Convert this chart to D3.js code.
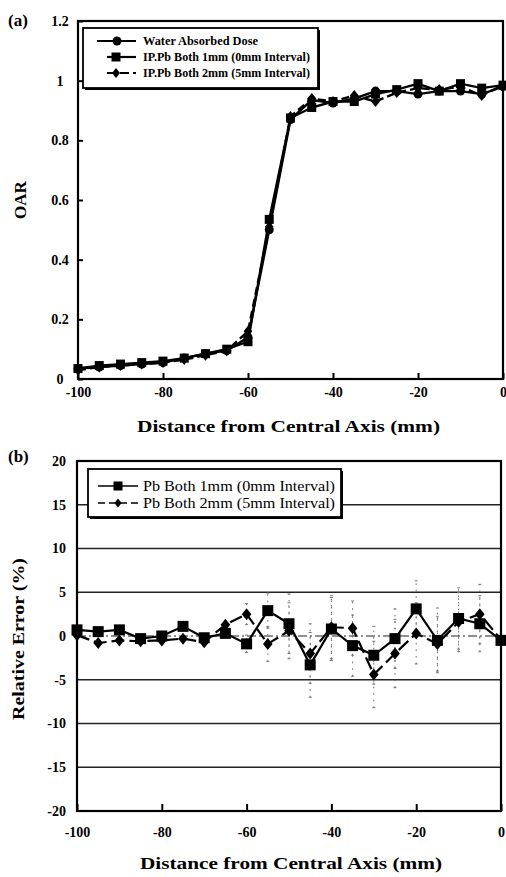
<!DOCTYPE html>
<html>
<head>
<meta charset="utf-8">
<script src="https://cdn.jsdelivr.net/npm/d3@7"></script>
<style>
html,body{margin:0;padding:0;background:#fff;}
svg{display:block;}
text{font-family:"Liberation Serif","Times New Roman",Times,serif;fill:#000;}
</style>
</head>
<body>
<svg id="chart" width="506" height="877"></svg>
<script>
// ---------- DATA ----------
const distances = [-100,-95,-90,-85,-80,-75,-70,-65,-60,-55,-50,-45,-40,-35,-30,-25,-20,-15,-10,-5,0];

// (a) OAR
const waterDose = [0.035,0.04,0.045,0.05,0.055,0.07,0.085,0.095,0.14,0.50,0.87,0.935,0.925,0.94,0.965,0.965,0.955,0.965,0.965,0.955,0.98];
const pb1mmOAR  = [0.035,0.045,0.05,0.055,0.06,0.07,0.085,0.10,0.125,0.535,0.875,0.91,0.93,0.93,0.955,0.97,0.99,0.965,0.99,0.975,0.985];
const pb2mmOAR  = [0.03,0.04,0.045,0.05,0.055,0.065,0.08,0.095,0.16,0.51,0.88,0.94,0.93,0.95,0.93,0.96,0.975,0.97,0.98,0.95,0.985];
const legendA = ["Water Absorbed Dose","IP.Pb Both 1mm (0mm Interval)","IP.Pb Both 2mm (5mm Interval)"];
const xTicks = [-100,-80,-60,-40,-20,0];
const yTicksA = [0,0.2,0.4,0.6,0.8,1,1.2];

// (b) Relative error
const pb1mmErr = [0.7,0.5,0.7,-0.3,0.0,1.1,-0.2,0.3,-0.9,2.9,1.4,-3.3,0.8,-1.1,-2.2,-0.3,3.1,-0.5,2.0,1.4,-0.5];
const pb2mmErr = [0.1,-0.8,-0.5,-0.6,-0.5,-0.3,-0.7,1.3,2.5,-0.9,0.6,-2.0,1.0,0.9,-4.4,-2.0,0.3,-0.9,1.6,2.5,-0.4];
const pb1mmSD  = [0.3,0.3,0.3,0.3,0.3,0.3,0.3,0.4,1.0,2.0,3.4,3.7,3.6,3.5,3.3,3.4,3.2,3.7,3.5,3.2,0.5];
const pb2mmSD  = [0.3,0.3,0.3,0.3,0.3,0.3,0.3,0.4,1.2,2.0,3.2,3.4,3.6,3.1,3.8,3.9,3.5,3.1,3.4,3.4,0.5];
const legendB = ["Pb Both 1mm (0mm Interval)","Pb Both 2mm (5mm Interval)"];
const yTicksB = [-20,-15,-10,-5,0,5,10,15,20];
const gridB = [-15,-10,-5,5,10,15];

// ---------- DRAW ----------
const svg = d3.select("#chart");
const FONT = "'Liberation Serif','Times New Roman',Times,serif";
const fmt = d => String(d);

function marker(g, type, x, y, s){
  if(type==="circle") g.append("circle").attr("cx",x).attr("cy",y).attr("r",s/2).attr("fill","#000");
  else if(type==="square") g.append("rect").attr("x",x-s/2).attr("y",y-s/2).attr("width",s).attr("height",s).attr("fill","#000");
  else g.append("path").attr("d",`M${x},${y-s/2}L${x+s/2*0.8},${y}L${x},${y+s/2}L${x-s/2*0.8},${y}Z`).attr("fill","#000");
}

// ===== (a) =====
const xA = d3.scaleLinear().domain([-100,0]).range([78,503]);
const yA = d3.scaleLinear().domain([0,1.2]).range([379,21]);
const gA = svg.append("g");

const seriesA = [
  {vals:waterDose, type:"circle", dash:null, size:9},
  {vals:pb1mmOAR, type:"square", dash:null, size:9},
  {vals:pb2mmOAR, type:"diamond", dash:"8,4", size:11}
];
const lineA = d3.line().x((d,i)=>xA(distances[i])).y(d=>yA(d));
seriesA.forEach(s=>{
  gA.append("path").attr("d",lineA(s.vals)).attr("fill","none").attr("stroke","#000")
    .attr("stroke-width",2.4).attr("stroke-dasharray",s.dash);
});
seriesA.forEach(s=>{
  s.vals.forEach((v,i)=>marker(gA,s.type,xA(distances[i]),yA(v),s.size));
});

// axes (a)
const axA = gA.append("g").attr("transform","translate(0,379)")
  .call(d3.axisBottom(xA).tickValues(xTicks).tickSizeInner(-6).tickSizeOuter(0).tickPadding(8).tickFormat(fmt));
const ayA = gA.append("g").attr("transform","translate(78,0)")
  .call(d3.axisLeft(yA).tickValues(yTicksA).tickSizeInner(-5).tickSizeOuter(0).tickPadding(10).tickFormat(fmt));
[axA,ayA].forEach(a=>{
  a.attr("font-family",null);
  a.select(".domain").remove();
  a.selectAll(".tick line").attr("stroke","#000").attr("stroke-width",2);
  a.selectAll("text").style("font-family",FONT).style("font-weight","bold").style("font-size","14px").attr("fill","#000");
});
ayA.selectAll("text").attr("text-anchor","middle").attr("x",-18);
gA.append("rect").attr("x",78).attr("y",21).attr("width",425).attr("height",358)
  .attr("fill","none").attr("stroke","#000").attr("stroke-width",2.2);

// legend (a)
const lgA = gA.append("g");
lgA.append("rect").attr("x",85).attr("y",30).attr("width",235).attr("height",60).attr("fill","#000");
lgA.append("rect").attr("x",83).attr("y",28).attr("width",235).attr("height",60).attr("fill","#fff").attr("stroke","#000").attr("stroke-width",1.8);
const rowsA = [41,57,73];
seriesA.forEach((s,i)=>{
  const y=rowsA[i], x0 = i===0?97:107;
  lgA.append("line").attr("x1",x0).attr("x2",136).attr("y1",y).attr("y2",y).attr("stroke","#000").attr("stroke-width",2.2).attr("stroke-dasharray",s.dash?"9,4":null);
  marker(lgA,s.type, i===0?117:116, y, i===2?10:9);
  lgA.append("text").attr("x",143).attr("y",y+4).text(legendA[i])
    .style("font-size","11.5px").style("font-weight","bold")
    .attr("textLength", i===0?115:167).attr("lengthAdjust","spacingAndGlyphs");
});

// labels (a)
svg.append("text").attr("x",8).attr("y",26).text("(a)").style("font-size","17px").style("font-weight","bold");
svg.append("text").attr("transform","translate(26,200) rotate(-90)").attr("text-anchor","middle").text("OAR")
  .style("font-size","17px").style("font-weight","bold");
svg.append("text").attr("x",137).attr("y",432).text("Distance from Central Axis (mm)")
  .style("font-size","17px").style("font-weight","bold").attr("textLength",303).attr("lengthAdjust","spacingAndGlyphs");

// ===== (b) =====
const xB = d3.scaleLinear().domain([-100,0]).range([77,501]);
const yB = d3.scaleLinear().domain([-20,20]).range([811,461]);
const gB = svg.append("g");

gB.selectAll(".grid").data(gridB).enter().append("line")
  .attr("x1",77).attr("x2",501).attr("y1",d=>yB(d)).attr("y2",d=>yB(d))
  .attr("stroke","#222").attr("stroke-width",1.3);
gB.append("line").attr("x1",77).attr("x2",501).attr("y1",yB(0)).attr("y2",yB(0))
  .attr("stroke","#222").attr("stroke-width",1.2).attr("stroke-dasharray","9,3,2,3");

const seriesB = [
  {vals:pb1mmErr, sd:pb1mmSD, type:"square", dash:null, size:11},
  {vals:pb2mmErr, sd:pb2mmSD, type:"diamond", dash:"13,5", size:12}
];
// error bars
seriesB.forEach(s=>{
  s.vals.forEach((v,i)=>{
    const x=xB(distances[i]);
    gB.append("line").attr("x1",x).attr("x2",x).attr("y1",yB(v-s.sd[i])).attr("y2",yB(v+s.sd[i]))
      .attr("stroke","#666").attr("stroke-width",1).attr("stroke-dasharray","1.5,5");
    [v-s.sd[i],v+s.sd[i]].forEach(e=>gB.append("line").attr("x1",x-1.5).attr("x2",x+1.5).attr("y1",yB(e)).attr("y2",yB(e)).attr("stroke","#777").attr("stroke-width",1));
  });
});
const lineB = d3.line().x((d,i)=>xB(distances[i])).y(d=>yB(d));
seriesB.forEach(s=>{
  gB.append("path").attr("d",lineB(s.vals)).attr("fill","none").attr("stroke","#000")
    .attr("stroke-width",2.2).attr("stroke-dasharray",s.dash);
});
seriesB.forEach(s=>{
  s.vals.forEach((v,i)=>marker(gB,s.type,xB(distances[i]),yB(v),s.size));
});

const axB = gB.append("g").attr("transform","translate(0,811)")
  .call(d3.axisBottom(xB).tickValues(xTicks).tickSizeInner(-7).tickSizeOuter(0).tickPadding(16).tickFormat(fmt));
const ayB = gB.append("g").attr("transform","translate(77,0)")
  .call(d3.axisLeft(yB).tickValues(yTicksB).tickSizeInner(0).tickSizeOuter(0).tickPadding(11).tickFormat(fmt));
[axB,ayB].forEach(a=>{
  a.attr("font-family",null);
  a.select(".domain").remove();
  a.selectAll(".tick line").attr("stroke","#000").attr("stroke-width",2);
  a.selectAll("text").style("font-family",FONT).style("font-weight","bold").style("font-size","14px").attr("fill","#000");
});
gB.append("rect").attr("x",77).attr("y",461).attr("width",424).attr("height",350)
  .attr("fill","none").attr("stroke","#000").attr("stroke-width",2.2);

// legend (b)
const lgB = gB.append("g");
lgB.append("rect").attr("x",90).attr("y",471).attr("width",253).attr("height",48).attr("fill","#000");
lgB.append("rect").attr("x",88).attr("y",469).attr("width",253).attr("height",48).attr("fill","#fff").attr("stroke","#000").attr("stroke-width",1.8);
const rowsB=[486,503];
seriesB.forEach((s,i)=>{
  const y=rowsB[i];
  lgB.append("line").attr("x1",98).attr("x2",138).attr("y1",y).attr("y2",y).attr("stroke","#000").attr("stroke-width",1.6).attr("stroke-dasharray",s.dash?"7,4":null);
  marker(lgB,s.type,118,y,9);
  lgB.append("text").attr("x",143).attr("y",y+5).text(legendB[i]).style("font-size","14.5px")
    .attr("textLength",192).attr("lengthAdjust","spacingAndGlyphs");
});

svg.append("text").attr("x",8).attr("y",462).text("(b)").style("font-size","17px").style("font-weight","bold");
svg.append("text").attr("transform","translate(24,639) rotate(-90)").attr("text-anchor","middle").text("Relative Error (%)")
  .style("font-size","17px").style("font-weight","bold").attr("textLength",162).attr("lengthAdjust","spacingAndGlyphs");
svg.append("text").attr("x",140).attr("y",869).text("Distance from Central Axis (mm)")
  .style("font-size","17px").style("font-weight","bold").attr("textLength",302).attr("lengthAdjust","spacingAndGlyphs");
</script>
</body>
</html>
